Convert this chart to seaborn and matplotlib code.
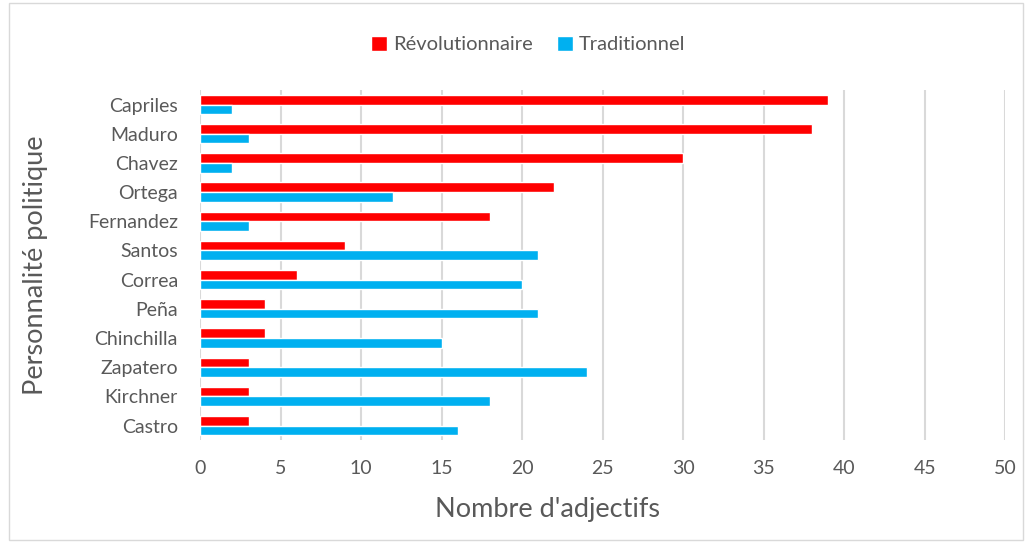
import pandas as pd
import matplotlib
matplotlib.use("Agg")
import matplotlib.pyplot as plt
import seaborn as sns
from matplotlib.patches import Rectangle

# Données
personnalites = ["Capriles", "Maduro", "Chavez", "Ortega", "Fernandez", "Santos",
                 "Correa", "Peña", "Chinchilla", "Zapatero", "Kirchner", "Castro"]
revolutionnaire = [39, 38, 30, 22, 18, 9, 6, 4, 4, 3, 3, 3]
traditionnel = [2, 3, 2, 12, 3, 21, 20, 21, 15, 24, 18, 16]
graduations = [0, 5, 10, 15, 20, 25, 30, 35, 40, 45, 50]

df = pd.DataFrame({
    "Personnalité": personnalites * 2,
    "Nombre": revolutionnaire + traditionnel,
    "Type": ["Révolutionnaire"] * len(personnalites) + ["Traditionnel"] * len(personnalites),
})

sns.set_theme(style="white")
plt.rcParams['font.family'] = ['Lato', 'DejaVu Sans']
gris = "#595959"

fig = plt.figure(figsize=(10.32, 5.42), dpi=100)
ax = fig.add_axes([0.194, 0.188, 0.78, 0.646])

sns.barplot(data=df, x="Nombre", y="Personnalité", hue="Type", order=personnalites,
            hue_order=["Révolutionnaire", "Traditionnel"],
            palette={"Révolutionnaire": "#FF0000", "Traditionnel": "#00B0F0"},
            saturation=1, orient="h", width=0.66, gap=0, errorbar=None, ax=ax, zorder=3)

ax.set_xlim(0, 50)
ax.set_xticks(graduations)
ax.grid(axis="x", color="#d9d9d9", linewidth=1.5, zorder=0)
ax.set_axisbelow(True)
for s in ax.spines.values():
    s.set_visible(False)
ax.tick_params(axis="x", length=0, pad=14, labelsize=14, labelcolor=gris)
ax.tick_params(axis="y", length=0, pad=16, labelsize=14, labelcolor=gris)
ax.set_xlabel("Nombre d'adjectifs", fontsize=19.5, color=gris)
ax.set_ylabel("Personnalité politique", fontsize=19.5, color=gris)
ax.xaxis.set_label_coords(0.432, -0.163)
ax.yaxis.set_label_coords(-0.189, 0.5)

leg = ax.legend(loc="center", ncol=2, frameon=False, fontsize=14.5, handlelength=0.8,
                handleheight=0.8, handletextpad=0.3, columnspacing=1.2, labelcolor=gris)
leg.set_bbox_to_anchor((0.512, 0.918), transform=fig.transFigure)

fig.patches.append(Rectangle((0.009, 0.004), 0.982, 0.99, transform=fig.transFigure,
                             fill=False, edgecolor="#d9d9d9", linewidth=1))

fig.savefig("out.png", dpi=100)
